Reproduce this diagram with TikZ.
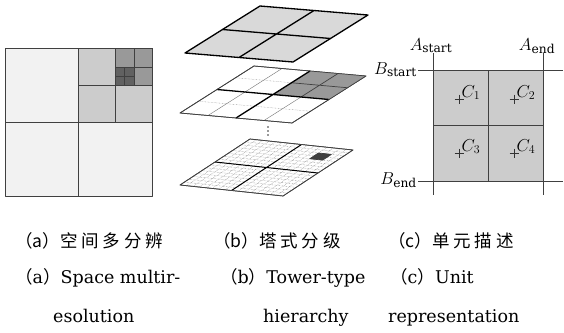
\documentclass[tikz,border=0pt]{standalone}
\usepackage{fontspec}
\setmainfont{DejaVu Serif}
\newfontfamily\cjk{Noto Sans CJK SC}
\newfontfamily\cjkwide[LetterSpace=22]{Noto Sans CJK SC}
\tikzset{
  edge/.style={draw=black!75, line width=0.7pt},
  split/.style={draw=black, line width=1.3pt},
  fine/.style={draw=black!55, line width=0.4pt},
  caption/.style={anchor=base west, inner sep=0pt, font=\fontsize{17.5}{20}\selectfont},
  label/.style={inner sep=0pt, font=\fontsize{17.5}{20}\selectfont},
}
\begin{document}
\begin{tikzpicture}[x=1pt, y=-1pt, line join=round]
    \useasboundingbox (0,0) rectangle (564,332);

    % (a) quadtree
    \filldraw[edge, fill=black!5] (5,48) rectangle (152,196);
    \filldraw[edge, fill=black!20] (78,48) rectangle (152,122);
    \filldraw[edge, fill=black!40] (115,48) rectangle (152,85);
    \filldraw[edge, fill=black!62] (115,67) rectangle (134,85);
    \draw[edge] (78,48) -- (78,196) (5,122) -- (152,122);
    \draw[edge] (115,48) -- (115,122) (78,85) -- (152,85);
    \draw[edge] (134,48) -- (134,85) (115,67) -- (152,67);
    \draw[edge] (124.5,67) -- (124.5,85) (115,76) -- (134,76);

    % (b) top level
    \begin{scope}[shift={(185,53)}, x={(108pt,-9pt)}, y={(75pt,47pt)}]
        \filldraw[split, fill=black!15] (0,0) -- (1,0) -- (1,1) -- (0,1) -- cycle;
        \draw[split] (0.5,0) -- (0.5,1) (0,0.5) -- (1,0.5);
    \end{scope}

    % (b) middle level
    \begin{scope}[shift={(180,113)}, x={(112pt,-10pt)}, y={(74pt,47pt)}]
        \filldraw[edge, fill=white] (0,0) -- (1,0) -- (1,1) -- (0,1) -- cycle;
        \fill[black!40] (0.5,0.5) -- (1,0.5) -- (1,1) -- (0.5,1) -- cycle;
        \foreach \t in {0.25,0.75} {
            \draw[fine, densely dotted] (0,\t) -- (0.5,\t);
            \draw[fine] (\t,0) -- (\t,0.5);
        }
        \draw[fine, densely dotted] (0.5,0.25) -- (1,0.25);
        \draw[fine] (0.25,0.5) -- (0.25,1);
        \draw[edge] (0.75,0.5) -- (0.75,1) (0.5,0.75) -- (1,0.75);
        \draw[split] (0.5,0) -- (0.5,1) (0,0.5) -- (1,0.5);
        \draw[edge] (0,0) -- (1,0) -- (1,1) -- (0,1) -- cycle;
    \end{scope}

    \foreach \y in {127,131,135}
        \fill[black!80] (268,\y) circle (0.8);

    % (b) finest level
    \begin{scope}[shift={(180,185)}, x={(103pt,-11pt)}, y={(70pt,46pt)}]
        \filldraw[edge, fill=white] (0,0) -- (1,0) -- (1,1) -- (0,1) -- cycle;
        \foreach \i in {1,...,15} {
            \draw[fine, densely dotted] (\i/16,0) -- (\i/16,1);
            \draw[fine, densely dotted] (0,\i/16) -- (1,\i/16);
        }
        \filldraw[edge, fill=black!75] (12/16,12/16) -- (14/16,12/16)
            -- (14/16,14/16) -- (12/16,14/16) -- cycle;
        \draw[edge] (13/16,12/16) -- (13/16,14/16) (12/16,13/16) -- (14/16,13/16);
        \draw[split, line width=1pt] (0.5,0) -- (0.5,1) (0,0.5) -- (1,0.5);
        \draw[edge] (0,0) -- (1,0) -- (1,1) -- (0,1) -- cycle;
    \end{scope}

    % (c) unit cells
    \filldraw[edge, fill=black!20] (433,70) rectangle (543,181);
    \draw[edge] (488,70) -- (488,181) (433,125) -- (543,125);
    \coordinate (astart) at (433,53);
    \coordinate (aend) at (543,53);
    \coordinate (bstart) at (418,70);
    \coordinate (bend) at (418,181);
    \draw[edge] (astart) -- (433,195) (aend) -- (543,195);
    \draw[edge] (bstart) -- (563,70) (bend) -- (563,181);
    \node[label, anchor=base] (la) at (431,50) {$A_{\mathrm{start}}$};
    \node[label, anchor=base] (lb) at (537,50) {$A_{\mathrm{end}}$};
    \node[label, anchor=base east] (lc) at (417,74) {$B_{\mathrm{start}}$};
    \node[label, anchor=base east] (ld) at (417,184) {$B_{\mathrm{end}}$};
    \foreach \x/\y/\n in {459/99/1, 514/99/2, 459/153/3, 514/153/4} {
        \draw[black!80, line width=0.6pt] (\x-4.5,\y) -- (\x+4.5,\y) (\x,\y-4.5) -- (\x,\y+4.5);
        \node[label, anchor=base west] (c\n) at (\x+2.5,\y-2) {$C_{\n}$};
    }

    % captions
    \node[caption] (ta) at (15,247) {\cjk（a）{\cjkwide 空间多分辨}};
    \node[caption] (tb) at (213,247) {\cjk（b）{\cjkwide 塔式分级}};
    \node[caption] (tc) at (388,247) {\cjk（c）{\cjkwide 单元描述}};
    \node[caption] (ea) at (15,283) {{\cjk（}a{\cjk）}Space multir-};
    \node[caption] (eb) at (220,283) {{\cjk（}b{\cjk）}Tower-type};
    \node[caption] (ec) at (390,283) {{\cjk（}c{\cjk）}Unit};
    \node[caption] (fa) at (53,322) {esolution};
    \node[caption] (fb) at (263,322) {hierarchy};
    \node[caption] (fc) at (388,322) {representation};
\end{tikzpicture}
\end{document}
